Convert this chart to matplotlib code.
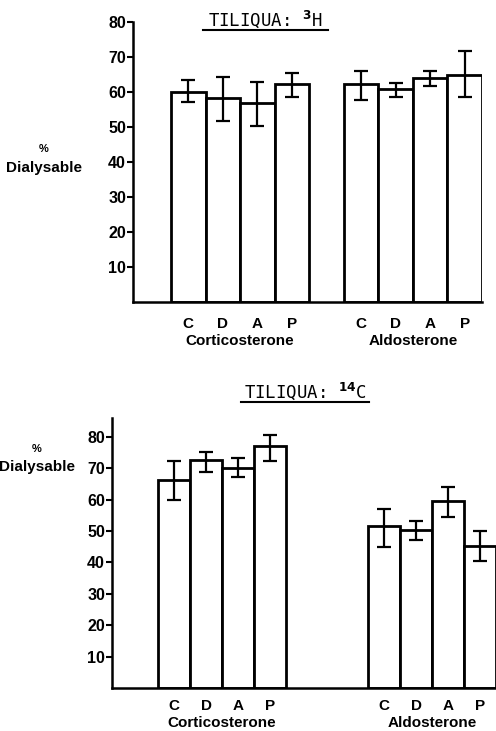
import numpy as np
import matplotlib.pyplot as plt
import matplotlib.transforms as mtransforms
from matplotlib.lines import Line2D

steroids = ['C', 'D', 'A', 'P']
groups = ['Corticosterone', 'Aldosterone']

# Tiliqua 3H
h3_cort = [60.0, 58.3, 56.8, 62.3]
h3_cort_hi = [63.4, 64.3, 62.9, 65.3]
h3_cort_lo = [57.1, 51.8, 50.2, 58.7]
h3_aldo = [62.2, 61.0, 64.0, 64.8]
h3_aldo_hi = [65.9, 62.7, 65.9, 71.6]
h3_aldo_lo = [57.8, 58.7, 61.8, 58.6]

# Tiliqua 14C
c14_cort = [66.3, 72.5, 70.2, 77.1]
c14_cort_hi = [72.3, 75.1, 73.2, 80.6]
c14_cort_lo = [60.0, 68.8, 67.1, 72.2]
c14_aldo = [51.6, 50.4, 59.5, 45.1]
c14_aldo_hi = [56.9, 53.2, 63.9, 49.9]
c14_aldo_lo = [44.9, 47.2, 54.5, 40.4]

yticks = [10, 20, 30, 40, 50, 60, 70, 80]

plt.rcParams['font.family'] = ['Liberation Sans', 'DejaVu Sans']
plt.rcParams['font.weight'] = 'bold'

fig = plt.figure(figsize=(4.96, 7.31), dpi=100)


def panel(ax, start1, start2, xmax, ymax, vals, his, los, lab_y, grp_y):
    trans = mtransforms.blended_transform_factory(ax.transData, ax.transAxes)
    for start, v, hi, lo, name in zip([start1, start2], vals, his, los, groups):
        x = start + 0.5 + np.arange(4)
        ax.bar(x, v, width=1.0, facecolor='white', edgecolor='black', linewidth=2)
        v = np.array(v)
        err = [v - np.array(lo), np.array(hi) - v]
        ax.errorbar(x, v, yerr=err, fmt='none', ecolor='black', elinewidth=1.6,
                    capsize=5, capthick=1.6)
        for xi, s in zip(x, steroids):
            ax.text(xi, lab_y, s, ha='center', va='center', fontsize=11,
                    transform=trans, clip_on=False)
        ax.text(start + 2, grp_y, name, ha='center', va='center', fontsize=11,
                transform=trans, clip_on=False)
    ax.set_xlim(0, xmax)
    ax.set_ylim(0, ymax)
    for s in ['top', 'right']:
        ax.spines[s].set_visible(False)
    ax.spines['left'].set_linewidth(1.8)
    ax.spines['bottom'].set_linewidth(1.8)
    ax.set_yticks(yticks)
    ax.tick_params(axis='y', direction='out', length=4, width=1.5, labelsize=11.5, pad=1)
    ax.set_xticks([])


# top panel
ax1 = fig.add_axes([133 / 496, 1 - 302 / 731, 349 / 496, 280 / 731])
panel(ax1, 1.1, 6.1, 10.1, 80, [h3_cort, h3_aldo], [h3_cort_hi, h3_aldo_hi],
      [h3_cort_lo, h3_aldo_lo], -22 / 280, -39 / 280)

# bottom panel
ax2 = fig.add_axes([112 / 496, 1 - 688 / 731, 384 / 496, 270 / 731])
panel(ax2, 1.44, 8.0, 12.0, 86, [c14_cort, c14_aldo], [c14_cort_hi, c14_aldo_hi],
      [c14_cort_lo, c14_aldo_lo], -18 / 270, -35 / 270)

# y labels
for (x, y1, y2) in [(44, 149, 168), (37, 449, 467)]:
    fig.text(x / 496, 1 - y1 / 731, '%', ha='center', va='center', fontsize=8)
    fig.text(x / 496, 1 - y2 / 731, 'Dialysable', ha='center', va='center', fontsize=11)

# titles
fig.text(265 / 496, 1 - 19 / 731, r'TILIQUA: $^{3}$H', ha='center', va='center',
         fontsize=12.5, family='DejaVu Sans Mono', fontweight='normal')
fig.add_artist(Line2D([203 / 496, 328 / 496], [1 - 30 / 731] * 2, color='black', lw=1.5))
fig.text(305 / 496, 1 - 391 / 731, r'TILIQUA: $^{14}$C', ha='center', va='center',
         fontsize=12.5, family='DejaVu Sans Mono', fontweight='normal')
fig.add_artist(Line2D([241 / 496, 369 / 496], [1 - 402 / 731] * 2, color='black', lw=1.5))

fig.savefig('out.png', dpi=100)
